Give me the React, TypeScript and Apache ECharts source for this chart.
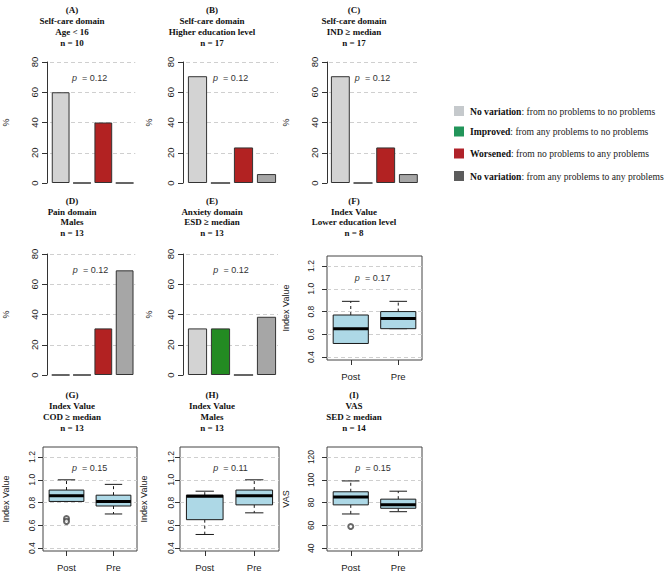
import React, { useEffect, useRef } from 'react';
import * as echarts from 'echarts';

// ---------------- data ----------------
const barCategories = ['No variation (none→none)', 'Improved', 'Worsened', 'No variation (any→any)'];
const barA = [60, 0, 40, 0];
const barB = [70.6, 0, 23.5, 5.9];
const barC = [70.6, 0, 23.5, 5.9];
const barD = [0, 0, 30.8, 69.2];
const barE = [30.8, 30.8, 0, 38.5];

const boxCategories = ['Post', 'Pre'];
// [min, Q1, median, Q3, max]
const boxF = [[0.52, 0.52, 0.65, 0.77, 0.89], [0.65, 0.65, 0.74, 0.80, 0.89]];
const boxG = [[0.81, 0.81, 0.86, 0.91, 1.0], [0.70, 0.77, 0.81, 0.865, 0.96]];
const boxH = [[0.52, 0.65, 0.855, 0.865, 0.90], [0.71, 0.78, 0.86, 0.91, 1.0]];
const boxI = [[70, 78, 85, 89.5, 99], [72, 75, 78, 83, 90]];
// outliers: [category index, value]
const outF: number[][] = [];
const outG = [[0, 0.66], [0, 0.635]];
const outH: number[][] = [];
const outI = [[0, 59]];
const indexTicks = [0.4, 0.6, 0.8, 1.0, 1.2];
const vasTicks = [40, 60, 80, 100, 120];

const titles = [
  ['(A)', 'Self-care domain', 'Age < 16', 'n = 10'],
  ['(B)', 'Self-care domain', 'Higher education level', 'n = 17'],
  ['(C)', 'Self-care domain', 'IND ≥ median', 'n = 17'],
  ['(D)', 'Pain domain', 'Males', 'n = 13'],
  ['(E)', 'Anxiety domain', 'ESD ≥ median', 'n = 13'],
  ['(F)', 'Index Value', 'Lower education level', 'n = 8'],
  ['(G)', 'Index Value', 'COD ≥ median', 'n = 13'],
  ['(H)', 'Index Value', 'Males', 'n = 13'],
  ['(I)', 'VAS', 'SED ≥ median', 'n = 14'],
];
const pValues = ['0.12', '0.12', '0.12', '0.12', '0.12', '0.17', '0.15', '0.11', '0.15'];

const legendBold = ['No variation', 'Improved', 'Worsened', 'No variation'];
const legendRest = [
  ': from no problems to no problems',
  ': from any problems to no problems',
  ': from no problems to any problems',
  ': from any problems to any problems',
];

// ---------------- styles / layout ----------------
const barColors = ['#d3d3d3', '#238b22', '#b22222', '#a6a6a6'];
const legendColors = ['#c5c9cc', '#22955a', '#b0222a', '#5c5c5c'];
const SANS = '"Liberation Sans", Arial, sans-serif';
const SERIF = '"Liberation Serif", "Times New Roman", serif';
const INK = '#222';
const GRIDLINE = '#cfcfcf';

type Panel = {
  kind: 'bar' | 'box';
  left: number; width: number; top: number; height: number;
  axisX: number; nameGap: number; labelMargin: number;
  titleX: number; titleY: number; pX: number; pY: number;
};

const panels: Panel[] = [
  { kind: 'bar', left: 46, width: 89.3, top: 62, height: 121, axisX: 43, nameGap: 37, labelMargin: 8, titleX: 72, titleY: 10.5, pX: 89.7, pY: 78.3 },
  { kind: 'bar', left: 186, width: 92, top: 62, height: 121, axisX: 183, nameGap: 30, labelMargin: 8, titleX: 212, titleY: 10.5, pX: 230.7, pY: 78 },
  { kind: 'bar', left: 329, width: 90.7, top: 62, height: 121, axisX: 327, nameGap: 37, labelMargin: 8, titleX: 354, titleY: 10.5, pX: 372.5, pY: 78 },
  { kind: 'bar', left: 46, width: 89.3, top: 254, height: 121, axisX: 43, nameGap: 37, labelMargin: 8, titleX: 72, titleY: 201, pX: 90.5, pY: 270 },
  { kind: 'bar', left: 186, width: 92, top: 254, height: 121, axisX: 183, nameGap: 30, labelMargin: 8, titleX: 212, titleY: 201, pX: 231, pY: 270 },
  { kind: 'box', left: 327, width: 95, top: 256, height: 104, axisX: 327, nameGap: 37, labelMargin: 12, titleX: 354, titleY: 201, pX: 372.5, pY: 277.7 },
  { kind: 'box', left: 43, width: 94, top: 447, height: 104, axisX: 43, nameGap: 33, labelMargin: 7, titleX: 72, titleY: 395.5, pX: 89.7, pY: 467.7 },
  { kind: 'box', left: 180, width: 99, top: 447, height: 104, axisX: 180, nameGap: 32, labelMargin: 5, titleX: 212, titleY: 395.5, pX: 230.5, pY: 467.7 },
  { kind: 'box', left: 327, width: 95, top: 447, height: 104, axisX: 327, nameGap: 37, labelMargin: 12, titleX: 354, titleY: 395.5, pX: 373, pY: 468.3 },
];

const barData = [barA, barB, barC, barD, barE];
const boxData = [boxF, boxG, boxH, boxI];
const outData = [outF, outG, outH, outI];
const boxNames = ['Index Value', 'Index Value', 'Index Value', 'VAS'];
const boxTicks = [indexTicks, indexTicks, indexTicks, vasTicks];
const boxRanges = [[0.375, 1.288], [0.375, 1.288], [0.375, 1.288], [37.5, 128.8]];

const renderBox = (params: any, api: any) => {
  const ci = api.value(0);
  const lo = api.value(1), q1 = api.value(2), med = api.value(3), q3 = api.value(4), hi = api.value(5);
  const band = api.size([1, 0])[0];
  const bw = band * 0.74;
  const pLo = api.coord([ci, lo]);
  const pQ1 = api.coord([ci, q1]);
  const pMed = api.coord([ci, med]);
  const pQ3 = api.coord([ci, q3]);
  const pHi = api.coord([ci, hi]);
  const cx = pMed[0];
  const stroke = '#1a1a1a';
  const dashed = { stroke, lineWidth: 1, lineDash: [3, 3] };
  const solid = { stroke, lineWidth: 1 };
  return {
    type: 'group',
    children: [
      { type: 'line', shape: { x1: cx, y1: pQ3[1], x2: cx, y2: pHi[1] }, style: dashed },
      { type: 'line', shape: { x1: cx, y1: pQ1[1], x2: cx, y2: pLo[1] }, style: dashed },
      { type: 'line', shape: { x1: cx - bw / 4, y1: pHi[1], x2: cx + bw / 4, y2: pHi[1] }, style: solid },
      { type: 'line', shape: { x1: cx - bw / 4, y1: pLo[1], x2: cx + bw / 4, y2: pLo[1] }, style: solid },
      { type: 'rect', shape: { x: cx - bw / 2, y: pQ3[1], width: bw, height: pQ1[1] - pQ3[1] }, style: { fill: '#add8e6', stroke, lineWidth: 1 } },
      { type: 'line', shape: { x1: cx - bw / 2, y1: pMed[1], x2: cx + bw / 2, y2: pMed[1] }, style: { stroke: '#000', lineWidth: 3 } },
    ],
  };
};

function buildOption() {
  const grid: any[] = [];
  const xAxis: any[] = [];
  const yAxis: any[] = [];
  const series: any[] = [];
  const graphic: any[] = [];

  panels.forEach((p, i) => {
    const isBar = p.kind === 'bar';
    grid.push({
      left: p.left, top: p.top, width: p.width, height: p.height,
      show: !isBar, borderColor: '#444', borderWidth: 1, backgroundColor: 'transparent',
      containLabel: false, z: 0,
    });
    if (isBar) {
      xAxis.push({ gridIndex: i, type: 'category', data: barCategories, show: false });
      yAxis.push({
        gridIndex: i, type: 'value', min: 0, max: 80, interval: 20,
        offset: p.left - p.axisX,
        axisLine: { show: true, lineStyle: { color: '#333', width: 1 } },
        axisTick: { show: true, length: 5, lineStyle: { color: '#333' } },
        axisLabel: { rotate: 90, fontSize: 9.5, color: INK, margin: p.labelMargin, fontFamily: SANS },
        splitLine: { show: true, showMinLine: false, lineStyle: { color: GRIDLINE, type: [4, 3], width: 1 } },
        name: '%', nameLocation: 'middle', nameGap: p.nameGap,
        nameTextStyle: { fontSize: 9, color: INK, fontFamily: SANS },
      });
      series.push({
        type: 'bar', xAxisIndex: i, yAxisIndex: i,
        barCategoryGap: '16.7%',
        itemStyle: { borderColor: '#333', borderWidth: 1 },
        data: barData[i].map((v, k) => ({ value: v, itemStyle: { color: barColors[k] } })),
      });
    } else {
      const b = i - 5;
      const ticks = boxTicks[b];
      xAxis.push({
        gridIndex: i, type: 'category', data: boxCategories,
        axisLine: { show: false },
        axisTick: { show: true, alignWithLabel: true, length: 5, lineStyle: { color: '#333' } },
        axisLabel: { fontSize: 9.5, color: INK, margin: 11, fontFamily: SANS },
        splitLine: { show: false },
      });
      yAxis.push({
        gridIndex: i, type: 'value', min: boxRanges[b][0], max: boxRanges[b][1],
        axisLine: { show: false },
        axisTick: { show: true, length: 5, customValues: ticks, lineStyle: { color: '#333' } },
        axisLabel: {
          customValues: ticks, rotate: 90, fontSize: 8.5, color: INK, margin: p.labelMargin, fontFamily: SANS,
          formatter: (v: number) => (b === 3 ? String(Math.round(v)) : v.toFixed(1)),
        },
        splitLine: { show: false },
        name: boxNames[b], nameLocation: 'middle', nameGap: p.nameGap,
        nameTextStyle: { fontSize: 9, color: INK, fontFamily: SANS },
      });
      series.push({
        type: 'scatter', xAxisIndex: i, yAxisIndex: i, z: 1,
        symbol: 'emptyCircle', symbolSize: 5,
        itemStyle: { color: '#444', borderWidth: 0.8 },
        data: outData[b],
        markLine: {
          z: 0, silent: true, symbol: 'none', label: { show: false },
          lineStyle: { color: GRIDLINE, type: [4, 3], width: 1 },
          data: ticks.map((v) => ({ yAxis: v })),
        },
      });
      series.push({
        type: 'custom', xAxisIndex: i, yAxisIndex: i, z: 10,
        renderItem: renderBox,
        encode: { x: 0, y: [1, 2, 3, 4, 5] },
        data: boxData[b].map((row, k) => [k, ...row]),
      });
    }

    graphic.push({
      type: 'text', x: p.titleX, y: p.titleY - 5.4, silent: true,
      style: {
        text: titles[i].join('\n'), align: 'center', verticalAlign: 'top',
        fontFamily: SERIF, fontWeight: 'bold', fontSize: 9, lineHeight: 10.7, fill: '#111',
      },
    });
    graphic.push({
      type: 'text', x: p.pX, y: p.pY, silent: true,
      style: {
        text: `{i|p}{r|  = ${pValues[i]}}`, align: 'center', verticalAlign: 'middle',
        rich: {
          i: { fontFamily: SANS, fontStyle: 'italic', fontSize: 9, fill: '#333' },
          r: { fontFamily: SANS, fontSize: 9, fill: '#333' },
        },
      },
    });
  });

  const legendY = [111, 131.5, 153.5, 176];
  legendY.forEach((y, k) => {
    graphic.push({
      type: 'rect', shape: { x: 454, y: y - 5, width: 10, height: 10 }, silent: true,
      style: { fill: legendColors[k] },
    });
    graphic.push({
      type: 'text', x: 470, y, silent: true,
      style: {
        text: `{b|${legendBold[k]}}{r|${legendRest[k]}}`, align: 'left', verticalAlign: 'middle',
        rich: {
          b: { fontFamily: SERIF, fontWeight: 'bold', fontSize: 9.6, fill: '#111' },
          r: { fontFamily: SERIF, fontSize: 9.6, fill: '#222' },
        },
      },
    });
  });

  return {
    animation: false,
    backgroundColor: '#ffffff',
    grid, xAxis, yAxis, series, graphic,
  };
}

export default function App() {
  const ref = useRef<HTMLDivElement>(null);
  useEffect(() => {
    if (!ref.current) return;
    const chart = echarts.init(ref.current, null, { renderer: 'svg' });
    chart.setOption(buildOption() as any);
    return () => chart.dispose();
  }, []);
  return (
    <div
      ref={ref}
      style={{ position: 'absolute', left: 0, top: 0, width: 669, height: 579, background: '#fff' }}
    />
  );
}
